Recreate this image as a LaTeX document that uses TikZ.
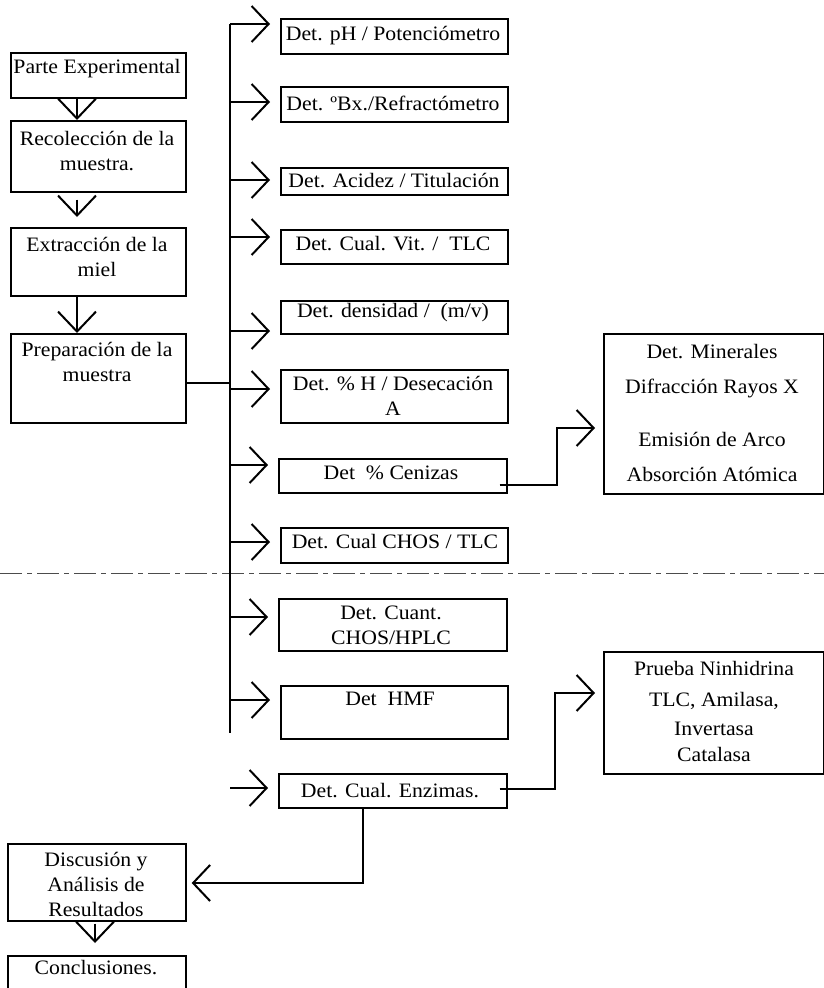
\documentclass[tikz,border=0pt]{standalone}
\usepackage{fontspec}
\setmainfont{Liberation Serif}[FakeStretch=1.06]
\usetikzlibrary{arrows.meta,calc}
\begin{document}
\begin{tikzpicture}[x=1pt,y=-1pt,
  box/.style={draw, line width=1.7pt, inner sep=0pt, anchor=north west},
  txt/.style={font=\fontsize{20.5}{25}\selectfont, align=center, inner sep=0pt},
  conn/.style={line width=2pt},
  arr/.style={conn, -{Straight Barb[length=17pt,width=36pt,line width=2pt]}},
  darr/.style={conn, -{Straight Barb[length=20pt,width=38pt,line width=2pt]}},
  sep/.style={line width=1pt, black!70, dash pattern=on 22pt off 5pt on 5pt off 5pt}]
\useasboundingbox (0,0) rectangle (824,988);
\clip (0,0) rectangle (824,988);
% left column boxes
\node[box, minimum width=175pt, minimum height=45pt] (L1) at (10,52) {};
\node[box, minimum width=175pt, minimum height=71pt] (L2) at (10,120) {};
\node[box, minimum width=175pt, minimum height=68pt] (L3) at (10,227) {};
\node[box, minimum width=175pt, minimum height=89pt] (L4) at (10,333) {};
\node[box, minimum width=178pt, minimum height=77pt] (D) at (7,843) {};
\node[box, minimum width=178pt, minimum height=60pt] (C) at (7,955) {};
% right column boxes
\node[box, minimum width=227pt, minimum height=35pt] (R1) at (280,18) {};
\node[box, minimum width=227pt, minimum height=35pt] (R2) at (280,86) {};
\node[box, minimum width=227pt, minimum height=27pt] (R3) at (280,167) {};
\node[box, minimum width=227pt, minimum height=34pt] (R4) at (280,229) {};
\node[box, minimum width=227pt, minimum height=33pt] (R5) at (280,300) {};
\node[box, minimum width=227pt, minimum height=53pt] (R6) at (280,369) {};
\node[box, minimum width=228pt, minimum height=34pt] (R7) at (278,458) {};
\node[box, minimum width=227pt, minimum height=35pt] (R8) at (280,527) {};
\node[box, minimum width=228pt, minimum height=52pt] (R9) at (278,598) {};
\node[box, minimum width=227pt, minimum height=53pt] (R10) at (280,685) {};
\node[box, minimum width=228pt, minimum height=34pt] (R11) at (278,773) {};
% far right boxes
\node[box, minimum width=220pt, minimum height=160pt] (M) at (603,333) {};
\node[box, minimum width=220pt, minimum height=122pt] (E) at (603,651) {};
% texts
\node[txt] (tL1) at (97,69) {Parte Experimental};
\node[txt] (tL2) at (97,151) {Recolección de la\\muestra.};
\node[txt] (tL3) at (97,257) {Extracción de la\\miel};
\node[txt] (tL4) at (97,362) {Preparación de la\\muestra};
\node[txt] (tD) at (96,884) {Discusión y\\Análisis de\\Resultados};
\node[txt] (tC) at (96,968) {Conclusiones.};
\node[txt] (tR1) at (393,36) {Det. pH / Potenciómetro};
\node[txt] (tR2) at (393,103) {Det. ºBx./Refractómetro};
\node[txt] (tR3) at (394,181) {Det. Acidez / Titulación};
\node[txt] (tR4) at (393,244) {Det. Cual. Vit. /\ \ TLC};
\node[txt] (tR5) at (393,313) {Det. densidad /\ \ (m/v)};
\node[txt] (tR6) at (393,396) {Det. \% H / Desecación\\A};
\node[txt] (tR7) at (391,473) {Det\ \ \% Cenizas};
\node[txt] (tR8) at (395,542) {Det. Cual CHOS / TLC};
\node[txt] (tR9) at (391,625) {Det. Cuant.\\CHOS/HPLC};
\node[txt] (tR10) at (390,699) {Det\ \ HMF};
\node[txt] (tR11) at (390,791) {Det. Cual. Enzimas.};
\node[txt] (tM) at (712,413) {Det. Minerales\\[10pt]Difracción Rayos X\\[28pt]Emisión de Arco\\[10pt]Absorción Atómica};
\node[txt] (tE) at (714,711) {Prueba Ninhidrina\\[6pt]TLC, Amilasa,\\[4pt]Invertasa\\[1pt]Catalasa};
% separator
\coordinate (s0) at (0,573);
\coordinate (s1) at (824,573);
\draw[sep] (s0) -- (s1);
% left column arrows
\draw[darr] ($(L1.south west)+(67,0)$) -- ($(L2.north west)+(67,0)$);
\draw[darr, shorten >=10pt] ($(L2.south west)+(67,7)$) -- ($(L3.north west)+(67,0)$);
\draw[darr] ($(L3.south west)+(67,0)$) -- ($(L4.north west)+(67,0)$);
\draw[darr, shorten >=12pt] ($(D.south west)+(88,2)$) -- ($(C.north west)+(88,0)$);
% trunk
\coordinate (t1) at (230,24);
\coordinate (t2) at (230,102);
\coordinate (t3) at (230,180);
\coordinate (t4) at (230,237);
\coordinate (t5) at (230,331);
\coordinate (t6) at (230,389);
\coordinate (t7) at (230,465);
\coordinate (t8) at (230,542);
\coordinate (t9) at (230,617);
\coordinate (t10) at (230,700);
\coordinate (t11) at (230,788);
\coordinate (tb) at (230,733);
\coordinate (tp) at (230,383);
\draw[conn] (t1) -- (tb);
\draw[conn] (tp -| L4.east) -- (tp);
\foreach \i in {1,...,11} {
  \draw[arr, shorten >=10pt] (t\i) -- (t\i -| R\i.west);
}
% minerals connector
\coordinate (c1) at (557,485);
\coordinate (m1) at (603,428);
\draw[arr, shorten >=8pt] ($(c1 -| R7.east)+(-8,0)$) -- (c1) |- (m1);
% enzymes connector
\coordinate (e1) at (555,789);
\coordinate (m2) at (603,693);
\draw[arr, shorten >=8pt] ($(e1 -| R11.east)+(-8,0)$) -- (e1) |- (m2);
% down to discussion
\coordinate (d1) at (363,883);
\draw[arr, shorten >=5pt] (R11.south -| d1) -- (d1) -- (d1 -| D.east);
\end{tikzpicture}
\end{document}
